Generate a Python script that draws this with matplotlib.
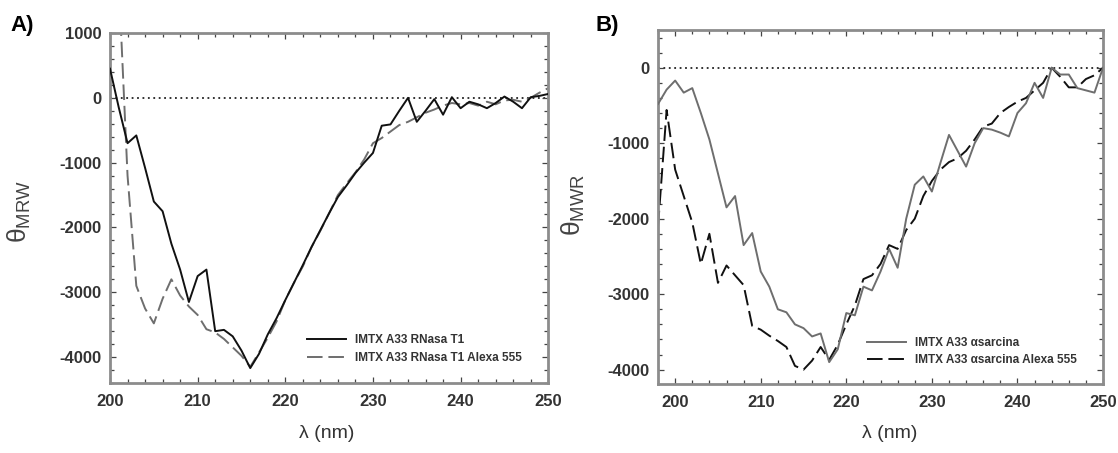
import numpy as np
import matplotlib
matplotlib.use("Agg")
import matplotlib.pyplot as plt
from matplotlib.ticker import MultipleLocator

plt.rcParams['font.family'] = ['Liberation Sans', 'DejaVu Sans']
plt.rcParams['mathtext.fontset'] = 'custom'
plt.rcParams['mathtext.rm'] = 'Liberation Sans'
plt.rcParams['mathtext.it'] = 'Liberation Sans'
plt.rcParams['axes.unicode_minus'] = False

# ---- Panel A: IMTX A33 RNasa T1 ----
wl_a = np.arange(200, 251)
rnasa = [450, -150, -700, -580, -1080, -1600, -1750, -2250, -2650, -3150,
         -2750, -2650, -3600, -3580, -3680, -3900, -4170, -3950, -3650, -3400,
         -3120, -2850, -2580, -2300, -2040, -1780, -1530, -1350, -1160, -1000,
         -850, -430, -410, -200, 0, -370, -200, -20, -260, 10,
         -160, -60, -100, -160, -80, 20, -60, -160, 10, 30, 60]

wl_a2 = np.arange(201, 251)
rnasa_alexa = [1800, -1200, -2900, -3250, -3480, -3100, -2800, -3050, -3220,
               -3350, -3570, -3620, -3720, -3850, -3980, -4150, -3930, -3700, -3450,
               -3120, -2850, -2600, -2300, -2050, -1780, -1500, -1320, -1150, -950,
               -700, -620, -520, -420, -370, -300, -230, -180, -120, -80,
               -100, -80, -120, -60, -100, -40, -30, -60, 0, 80, 150]

# ---- Panel B: IMTX A33 alpha-sarcina ----
wl_b = np.arange(198, 251)
sarcina = [-480, -290, -170, -330, -270, -600, -950, -1400, -1850, -1700,
           -2350, -2190, -2700, -2900, -3200, -3240, -3400, -3450, -3560, -3520,
           -3900, -3730, -3250, -3280, -2900, -2950, -2700, -2400, -2650, -2000,
           -1550, -1440, -1640, -1260, -890, -1100, -1310, -1000, -800, -820,
           -860, -910, -600, -470, -200, -400, 0, -90, -90, -270,
           -300, -330, 0]

sarcina_alexa = [-2100, -560, -1350, -1700, -2050, -2600, -2200, -2850, -2620, -2750,
                 -2880, -3420, -3470, -3550, -3620, -3700, -3950, -4000, -3880, -3700,
                 -3870, -3670, -3400, -3150, -2800, -2750, -2600, -2350, -2400, -2150,
                 -2000, -1700, -1500, -1350, -1250, -1200, -1100, -950, -780, -740,
                 -600, -520, -450, -400, -300, -200, 0, -120, -260, -260,
                 -150, -100, 0]

fig = plt.figure(figsize=(11.18, 4.53), dpi=100)
ax_a = fig.add_axes([0.0984, 0.1545, 0.392, 0.7726])
ax_b = fig.add_axes([0.5886, 0.1523, 0.398, 0.7815])

tick_color = '#333333'
spine_color = '#8c8c8c'


def style_axes(ax, xlim, ylim):
    ax.set_xlim(*xlim)
    ax.set_ylim(*ylim)
    ax.axhline(0, color='#222222', ls=(0, (1, 2)), lw=1.3, zorder=1)
    ax.xaxis.set_major_locator(MultipleLocator(10))
    ax.xaxis.set_minor_locator(MultipleLocator(2))
    ax.yaxis.set_major_locator(MultipleLocator(1000))
    ax.yaxis.set_minor_locator(MultipleLocator(200))
    ax.tick_params(which='both', direction='in', top=True, right=True,
                   color='#444444', width=0.9)
    ax.tick_params(which='major', length=4)
    ax.tick_params(which='minor', length=3)
    ax.tick_params(axis='y', which='major', pad=6, labelsize=12,
                   labelcolor=tick_color)
    ax.tick_params(axis='x', which='major', pad=8, labelsize=12,
                   labelcolor=tick_color)
    for sp in ax.spines.values():
        sp.set_color(spine_color)
        sp.set_linewidth(2.0)


# Panel A
ax_a.plot(wl_a, rnasa, color='#111111', lw=1.4, label='IMTX A33 RNasa T1', zorder=3)
ax_a.plot(wl_a2, rnasa_alexa, color='#6e6e6e', lw=1.4, dashes=(8, 3),
          label='IMTX A33 RNasa T1 Alexa 555', zorder=2)
style_axes(ax_a, (200, 250), (-4400, 1000))
ax_a.set_xticks([200, 210, 220, 230, 240, 250])
ax_a.set_yticks([-4000, -3000, -2000, -1000, 0, 1000])
for lab in ax_a.get_xticklabels() + ax_a.get_yticklabels():
    lab.set_fontweight('bold')
ax_a.set_ylabel(r'$\mathregular{\theta_{MRW}}$', fontsize=19, color='#444444')
ax_a.yaxis.set_label_coords(-0.175, 0.49)
ax_a.set_xlabel('λ (nm)', fontsize=14, color='#333333')
ax_a.xaxis.set_label_coords(0.495, -0.12)
leg_a = ax_a.legend(loc='lower right', bbox_to_anchor=(0.965, 0.025), frameon=False,
                    prop={'size': 8.5, 'weight': 'bold'}, handlelength=3.3,
                    labelspacing=0.45, handletextpad=0.8)
for t in leg_a.get_texts():
    t.set_color('#333333')

# Panel B
ax_b.plot(wl_b, sarcina, color='#6e6e6e', lw=1.4, label='IMTX A33 αsarcina', zorder=3)
ax_b.plot(wl_b, sarcina_alexa, color='#111111', lw=1.4, dashes=(8, 3),
          label='IMTX A33 αsarcina Alexa 555', zorder=2)
style_axes(ax_b, (198, 250), (-4190, 500))
ax_b.set_xticks([200, 210, 220, 230, 240, 250])
ax_b.set_yticks([-4000, -3000, -2000, -1000, 0])
for lab in ax_b.get_xticklabels() + ax_b.get_yticklabels():
    lab.set_fontweight('bold')
ax_b.set_ylabel(r'$\mathregular{\theta_{MWR}}$', fontsize=19, color='#444444')
ax_b.yaxis.set_label_coords(-0.16, 0.505)
ax_b.set_xlabel('λ (nm)', fontsize=14, color='#333333')
ax_b.xaxis.set_label_coords(0.52, -0.115)
leg_b = ax_b.legend(loc='lower right', bbox_to_anchor=(0.965, 0.02), frameon=False,
                    prop={'size': 8.5, 'weight': 'bold'}, handlelength=3.3,
                    labelspacing=0.45, handletextpad=0.8)
for t in leg_b.get_texts():
    t.set_color('#333333')

fig.text(0.009, 0.943, 'A)', fontsize=16, fontweight='bold', va='center', ha='left')
fig.text(0.533, 0.943, 'B)', fontsize=16, fontweight='bold', va='center', ha='left')

fig.savefig('out.png', dpi=100)
